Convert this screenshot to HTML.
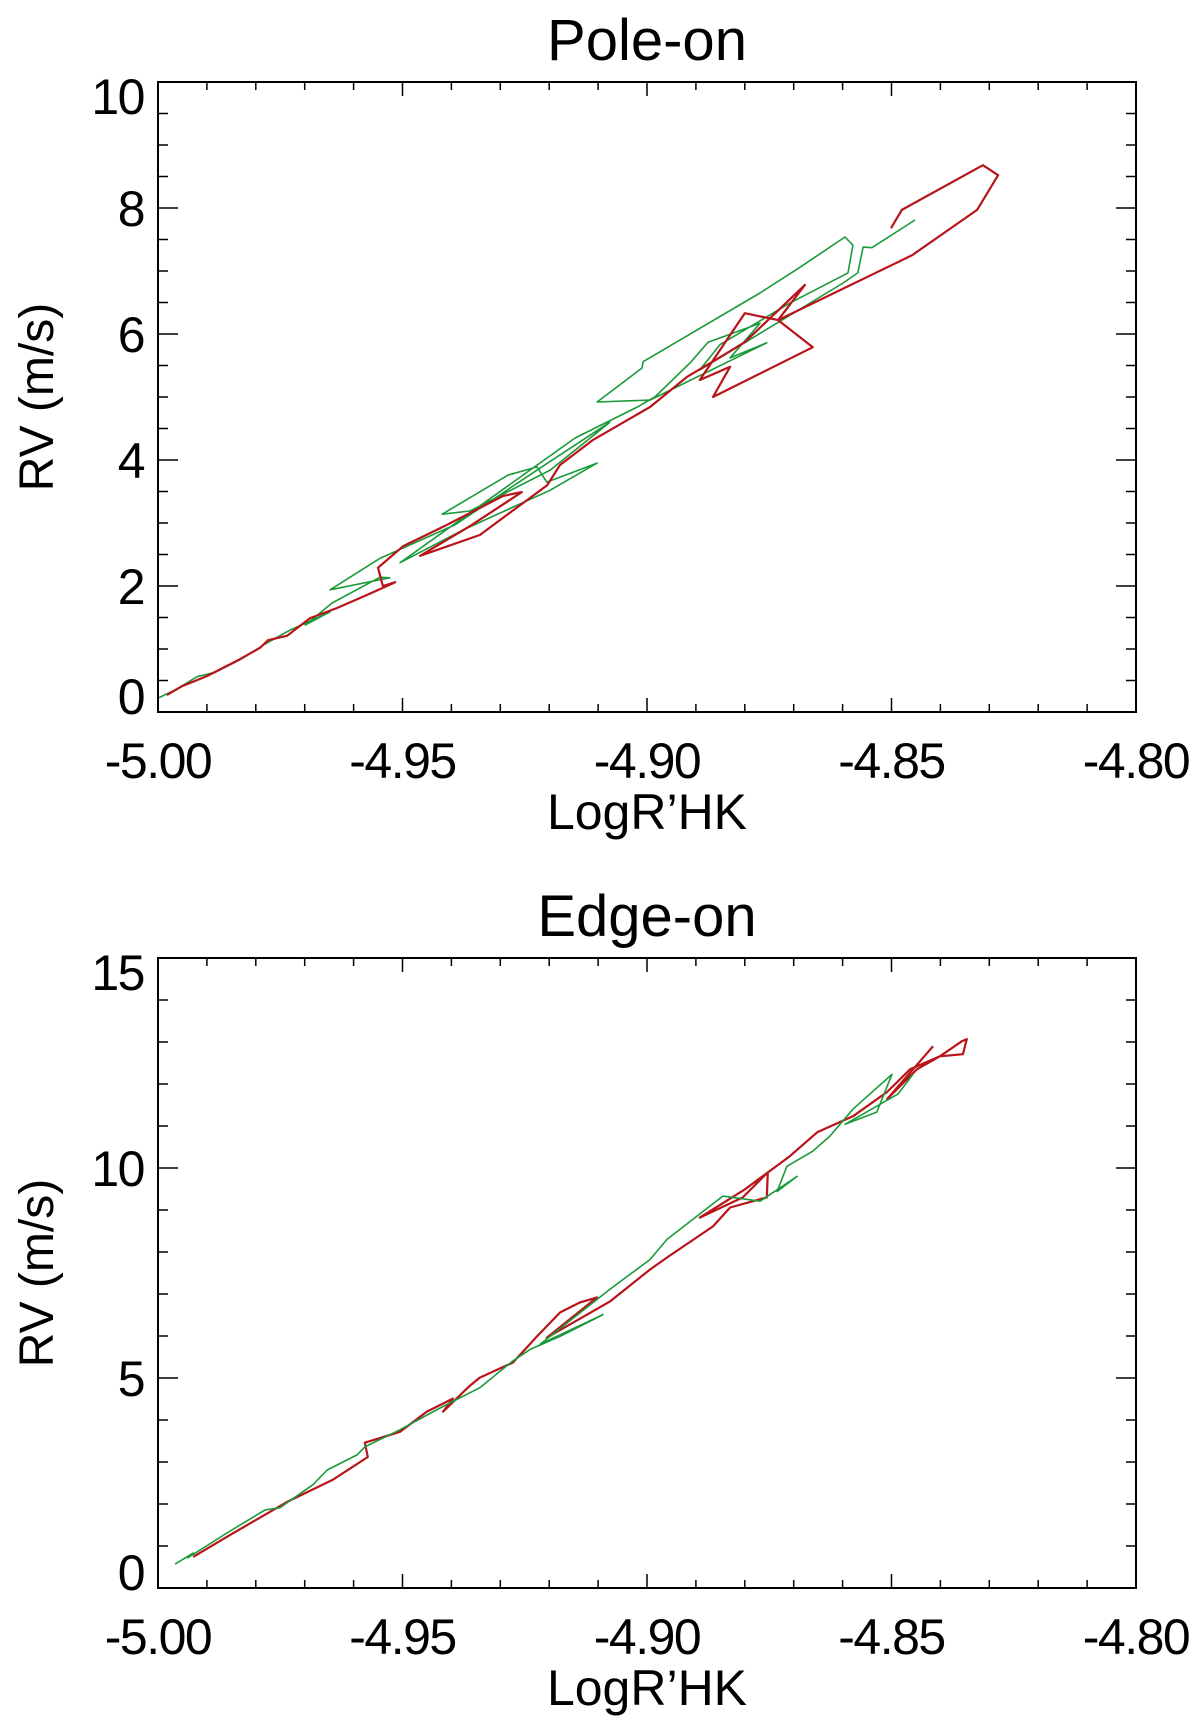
<!DOCTYPE html>
<html><head><meta charset="utf-8">
<style>
html,body{margin:0;padding:0;background:#fff;}
svg{display:block;}
text{font-family:"Liberation Sans",sans-serif;fill:#000;}
</style></head>
<body>
<svg id="fig" width="1200" height="1726" viewBox="0 0 1200 1726" xmlns="http://www.w3.org/2000/svg"></svg>
<script>
// ---- data: top panel (Pole-on)
const poleRedX = [-4.9982,-4.9951,-4.9900,-4.9832,-4.9791,-4.9775,-4.9736,-4.9689,-4.9634,-4.9581,-4.9546,-4.9515,-4.9540,-4.9550,-4.9499,-4.9417,-4.9294,-4.9256,-4.9362,-4.9464,-4.9342,-4.9204,-4.9178,-4.9110,-4.8994,-4.8918,-4.8851,-4.8800,-4.8677,-4.8732,-4.8661,-4.8865,-4.8830,-4.8892,-4.8800,-4.8732,-4.8458,-4.8325,-4.8282,-4.8313,-4.8479,-4.8501];
const poleRedY = [0.27,0.41,0.57,0.84,1.02,1.14,1.21,1.49,1.65,1.83,1.95,2.06,2.00,2.29,2.63,2.94,3.43,3.49,2.95,2.48,2.81,3.60,3.92,4.32,4.84,5.32,5.63,5.87,6.78,6.22,5.79,5.00,5.48,5.27,6.33,6.22,7.25,7.97,8.52,8.68,7.97,7.68];
const poleGreenX = [-5.0000,-4.9965,-4.9920,-4.9883,-4.9832,-4.9781,-4.9730,-4.9679,-4.9648,-4.9699,-4.9644,-4.9546,-4.9526,-4.9648,-4.9546,-4.9393,-4.9219,-4.9076,-4.9198,-4.9362,-4.9419,-4.9284,-4.9225,-4.9205,-4.9102,-4.9198,-4.9376,-4.9505,-4.9147,-4.9020,-4.8984,-4.8912,-4.8875,-4.8769,-4.8830,-4.8755,-4.8994,-4.9102,-4.9010,-4.9008,-4.8769,-4.8687,-4.8595,-4.8579,-4.8589,-4.8708,-4.8851,-4.8892,-4.8599,-4.8569,-4.8558,-4.8540,-4.8452];
const poleGreenY = [0.22,0.35,0.56,0.63,0.83,1.08,1.30,1.48,1.59,1.38,1.73,2.14,2.13,1.94,2.44,2.97,3.87,4.60,3.84,3.19,3.14,3.76,3.89,3.65,3.95,3.52,2.89,2.37,4.35,4.84,5.00,5.54,5.87,6.17,5.62,5.86,4.95,4.92,5.46,5.56,6.65,7.06,7.54,7.41,6.97,6.49,5.83,5.43,6.81,6.97,7.38,7.37,7.81];
// ---- data: bottom panel (Edge-on)
const edgeRedX = [-4.9928,-4.9859,-4.9736,-4.9642,-4.9571,-4.9577,-4.9505,-4.9450,-4.9397,-4.9417,-4.9362,-4.9342,-4.9274,-4.9225,-4.9178,-4.9137,-4.9102,-4.9205,-4.9076,-4.8994,-4.8959,-4.8865,-4.8830,-4.8755,-4.8753,-4.8804,-4.8892,-4.8800,-4.8708,-4.8652,-4.8579,-4.8509,-4.8462,-4.8401,-4.8356,-4.8346,-4.8354,-4.8401,-4.8448,-4.8509,-4.8415];
const edgeRedY = [0.74,1.22,2.05,2.58,3.12,3.46,3.72,4.20,4.51,4.20,4.82,5.01,5.37,5.99,6.56,6.80,6.92,5.96,6.82,7.58,7.87,8.61,9.06,9.30,9.90,9.30,8.82,9.49,10.28,10.85,11.23,11.81,12.35,12.66,13.02,13.07,12.71,12.66,12.35,11.64,12.90];
const edgeGreenX = [-4.9965,-4.9928,-4.9939,-4.9859,-4.9781,-4.9751,-4.9683,-4.9654,-4.9593,-4.9577,-4.9505,-4.9429,-4.9342,-4.9276,-4.9239,-4.9178,-4.9090,-4.9219,-4.9076,-4.8994,-4.8959,-4.8845,-4.8769,-4.8693,-4.8734,-4.8714,-4.8661,-4.8626,-4.8579,-4.8499,-4.8530,-4.8595,-4.8487,-4.8456];
const edgeGreenY = [0.57,0.83,0.72,1.31,1.86,1.91,2.46,2.81,3.17,3.36,3.77,4.25,4.77,5.39,5.68,5.99,6.51,5.80,7.11,7.82,8.30,9.33,9.21,9.80,9.44,10.04,10.40,10.76,11.40,12.23,11.33,11.04,11.76,12.23];
// ---- ticks
const xTickLabels = ["-5.00","-4.95","-4.90","-4.85","-4.80"];
const xTickValues = [-5.00,-4.95,-4.90,-4.85,-4.80];
const poleYTicks = [0,2,4,6,8,10];
const edgeYTicks = [0,5,10,15];

const NS = "http://www.w3.org/2000/svg";
const svg = document.getElementById('fig');
function mk(tag, attrs, parent){
  const e = document.createElementNS(NS, tag);
  for (const k in attrs) e.setAttribute(k, attrs[k]);
  (parent||svg).appendChild(e);
  return e;
}

function panel(opt){
  const L=158, R=1136, T=opt.top, B=opt.top+630;
  const xs = v => L + (v - (-5.0)) / 0.2 * (R-L);
  const ys = v => B - v / opt.ymax * (B-T);
  const g = mk('g', {});
  
  

  opt.series.forEach(s=>{
    const pts = s.x.map((v,i)=> xs(v).toFixed(1)+','+ys(s.y[i]).toFixed(1)).join(' ');
    const pl = mk('polyline', {points:pts, fill:'none', stroke:s.color, 'stroke-width':s.w, 'stroke-linejoin':'round'}, g);
    
    
  });

  const fr = mk('rect', {x:L, y:T, width:R-L, height:B-T, fill:'none', stroke:'#000', 'stroke-width':2}, g);
  
  

  for (let i=0;i<=20;i++){
    const v = -5.0 + i*0.01;
    const X = xs(v);
    const len = (i%5===0)?14:8;
    mk('line',{x1:X,y1:B,x2:X,y2:B-len,stroke:'#000','stroke-width':1.5},g);
    mk('line',{x1:X,y1:T,x2:X,y2:T+len,stroke:'#000','stroke-width':1.5},g);
  }
  xTickValues.forEach((v,i)=>{
    const t = mk('text',{x:xs(v), y:B+66, 'font-size':50, 'text-anchor':'middle', 'letter-spacing':'-1.5'}, g);
    t.textContent = xTickLabels[i];
    
    
  });
  for (let v=0; v<=opt.ymax+1e-9; v+=opt.minor){
    const Y = ys(v);
    const major = Math.abs(v/opt.major - Math.round(v/opt.major))<1e-6;
    const len = major?20:10;
    mk('line',{x1:L,y1:Y,x2:L+len,y2:Y,stroke:'#000','stroke-width':1.5},g);
    mk('line',{x1:R,y1:Y,x2:R-len,y2:Y,stroke:'#000','stroke-width':1.5},g);
  }
  opt.yticks.forEach(v=>{
    let Y = ys(v);
    if (v===0) Y -= 16; else if (v===opt.ymax) Y += 14;
    const t = mk('text',{x:144, y:Y+18, 'font-size':50, 'text-anchor':'end', 'letter-spacing':'-1.5'}, g);
    t.textContent = String(v);
    
    
  });
  const ti = mk('text',{x:(L+R)/2, y:T-22, 'font-size':58, 'text-anchor':'middle'}, g);
  ti.textContent = opt.title;
  
  
  const xt = mk('text',{x:(L+R)/2, y:B+117, 'font-size':50, 'text-anchor':'middle'}, g);
  xt.textContent = "LogR\u2019HK";
  
  
  const cy = (T+B)/2;
  const yt = mk('text',{x:0, y:0, 'font-size':48, 'text-anchor':'middle', transform:'translate(53,'+cy+') rotate(-90)'}, g);
  yt.textContent = "RV (m/s)";
  
  
}

panel({name:'pole-on', title:'Pole-on', top:82, ymax:10, minor:0.5, major:2, yticks:poleYTicks,
  series:[{name:'pole-on-green-line', x:poleGreenX, y:poleGreenY, color:'#1a9a3a', w:1.6},
          {name:'pole-on-red-line', x:poleRedX, y:poleRedY, color:'#b8141a', w:2.2}]});
panel({name:'edge-on', title:'Edge-on', top:958, ymax:15, minor:1, major:5, yticks:edgeYTicks,
  series:[{name:'edge-on-red-line', x:edgeRedX, y:edgeRedY, color:'#b8141a', w:2.2},
          {name:'edge-on-green-line', x:edgeGreenX, y:edgeGreenY, color:'#1a9a3a', w:1.6}]});
</script>
</body></html>
